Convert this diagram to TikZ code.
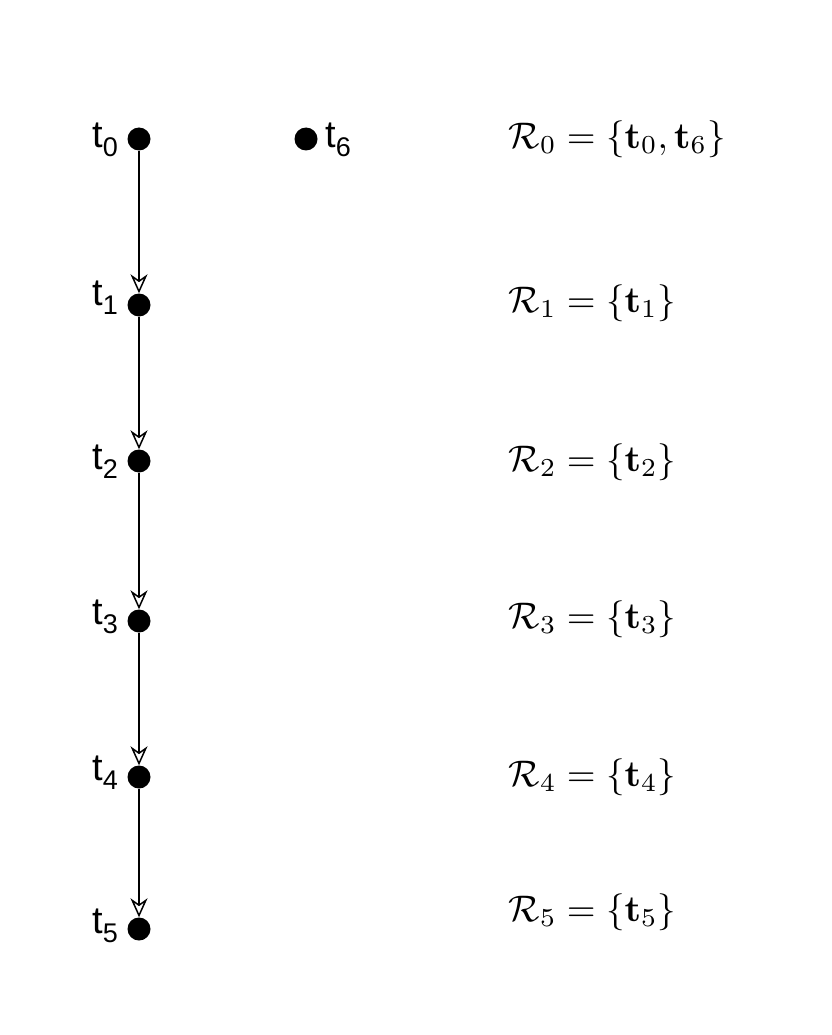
\documentclass[tikz,border=0pt]{standalone}
\usepackage{amsmath}
\usepackage[no-math]{fontspec}
\setsansfont{Liberation Sans}
\usetikzlibrary{arrows.meta}
\newcommand{\tl}[1]{t\raisebox{-9pt}{\fontsize{27}{28}\selectfont #1}}
\begin{document}
\begin{tikzpicture}[x=1pt,y=-1pt,
  dot/.style={circle,fill=black,inner sep=0pt,minimum size=23pt},
  lab/.style={font=\sffamily\fontsize{38}{40}\selectfont,inner sep=0pt},
  rel/.style={font=\fontsize{10}{12}\selectfont,scale=3.7,anchor=west,inner sep=0pt},
  edge/.style={line width=1.8pt,-{Stealth[open,length=19pt,width=17pt,inset=6pt,line width=1.5pt]}}]
\useasboundingbox (0,0) rectangle (831,1035);
\node[dot] (n0) at (139,139) {};
\node[dot] (n1) at (139,305) {};
\node[dot] (n2) at (139,461) {};
\node[dot] (n3) at (139,621) {};
\node[dot] (n4) at (139,777) {};
\node[dot] (n5) at (139,929) {};
\node[dot] (n6) at (306,139) {};
\node[lab,anchor=base east] (l0) at (118,148) {\tl{0}};
\node[lab,anchor=base east] (l1) at (118,305) {\tl{1}};
\node[lab,anchor=base east] (l2) at (118,469) {\tl{2}};
\node[lab,anchor=base east] (l3) at (118,624) {\tl{3}};
\node[lab,anchor=base east] (l4) at (118,780) {\tl{4}};
\node[lab,anchor=base east] (l5) at (118,933) {\tl{5}};
\node[lab,anchor=base west] (l6) at (325,148) {\tl{6}};
\draw[edge] (n0) -- (n1);
\draw[edge] (n1) -- (n2);
\draw[edge] (n2) -- (n3);
\draw[edge] (n3) -- (n4);
\draw[edge] (n4) -- (n5);
\node[rel] (r0) at (508,139) {$\mathcal{R}_0=\{\mathbf{t}_0,\mathbf{t}_6\}$};
\node[rel] (r1) at (508,303) {$\mathcal{R}_1=\{\mathbf{t}_1\}$};
\node[rel] (r2) at (508,462) {$\mathcal{R}_2=\{\mathbf{t}_2\}$};
\node[rel] (r3) at (508,619) {$\mathcal{R}_3=\{\mathbf{t}_3\}$};
\node[rel] (r4) at (508,777) {$\mathcal{R}_4=\{\mathbf{t}_4\}$};
\node[rel] (r5) at (508,912) {$\mathcal{R}_5=\{\mathbf{t}_5\}$};
\end{tikzpicture}
\end{document}
